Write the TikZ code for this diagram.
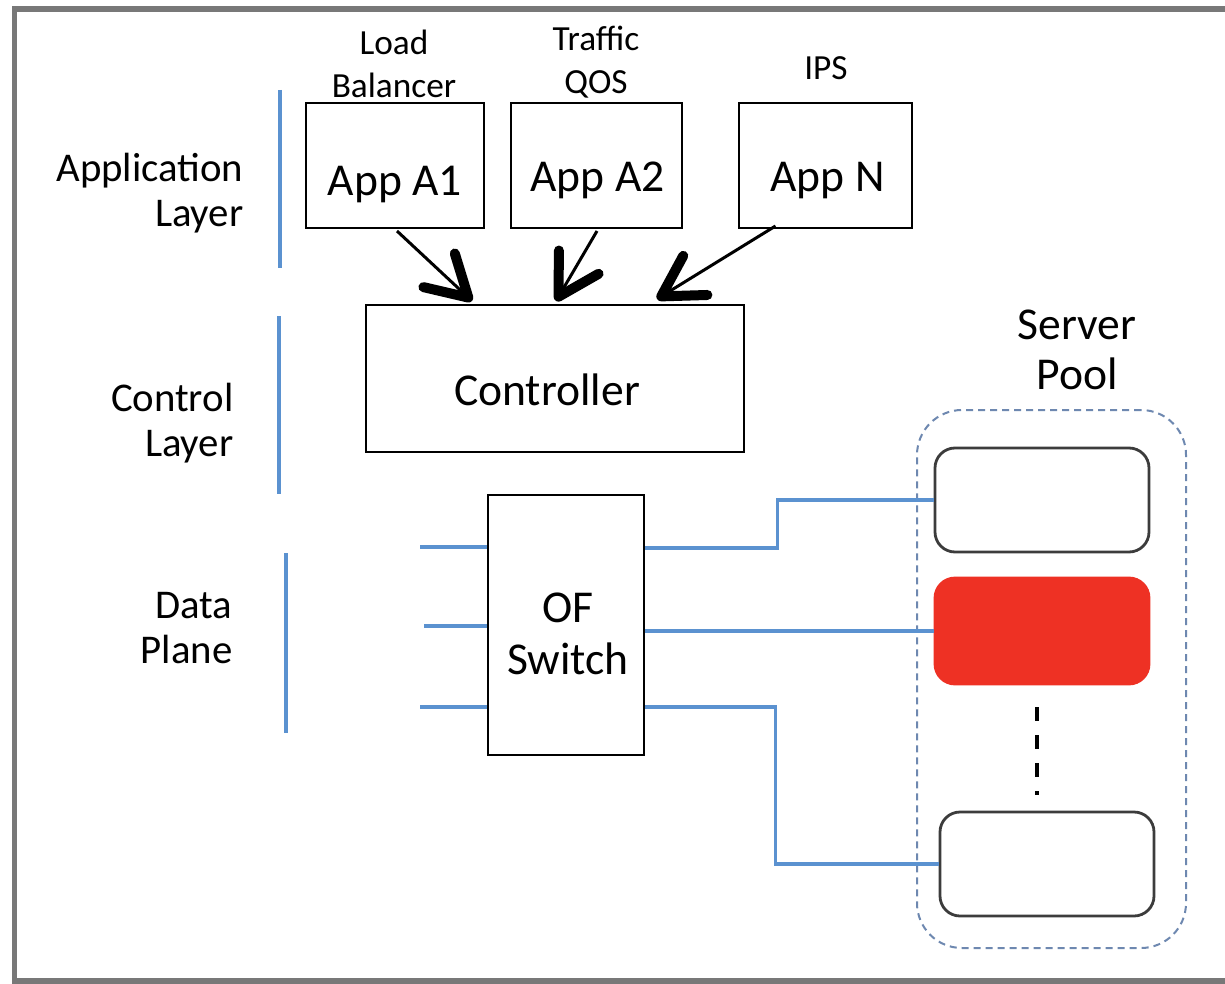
\documentclass[tikz,border=0pt]{standalone}
\usepackage{fontspec}
\setmainfont{Carlito}
\usetikzlibrary{arrows.meta,calc}
\definecolor{lblue}{RGB}{91,146,208}
\definecolor{poolc}{RGB}{110,136,176}
\definecolor{srvred}{RGB}{238,49,36}
\definecolor{frameg}{RGB}{120,120,120}
\begin{document}
\begin{tikzpicture}[x=1pt,y=-1pt,
  box/.style={draw=black,line width=2pt,fill=white,inner sep=0pt},
  txt/.style={align=center,font=\fontsize{45.6}{52}\selectfont},
  srv/.style={draw={rgb,255:red,60;green,60;blue,60},line width=2.8pt,rounded corners=20pt,minimum width=214pt,inner sep=0pt},
  lbl/.style={align=right,anchor=east,font=\fontsize{40.8}{45}\selectfont},
  top/.style={align=center,font=\fontsize{35.3}{43}\selectfont},
  vline/.style={draw=lblue,line width=4pt},
  link/.style={draw=lblue,line width=3.4pt},
  bigarrow/.style={line width=3pt,-{Straight Barb[length=40pt,width=46pt,line width=10pt,round]}}
]
\useasboundingbox (0,0) rectangle (1225,984);
\fill[white] (0,0) rectangle (1225,984);
% frame
\draw[frameg,line width=5.5pt] (1240,9) -- (14.5,9) -- (14.5,981) -- (1240,981);
% layer labels
\node[lbl] (appl) at (247,193) {Application\\Layer};
\node[lbl] (ctrll) at (237,423) {Control\\Layer};
\node[lbl] (datal) at (236,628) {Data\\Plane};
\draw[vline] (280,90) -- (280,268);
\draw[vline] (279,316) -- (279,494);
\draw[vline] (286,553) -- (286,733);
% apps
\node[box,minimum width=178pt,minimum height=125pt] (a1) at (395,165.5) {};
\node[box,minimum width=171pt,minimum height=125pt] (a2) at (596.5,165.5) {};
\node[box,minimum width=173pt,minimum height=125pt] (an) at (825.5,165.5) {};
\node[txt] (a1t) at ($(a1)+(0,19)$) {App A1};
\node[txt] (a2t) at ($(a2)+(1,15)$) {App A2};
\node[txt] (ant) at ($(an)+(2,15)$) {App N};
\node[top] (t1) at (394,64) {Load\\Balancer};
\node[top] (t2) at (596,62) {Traffic\\QOS};
\node[top] (t3) at (826,68) {IPS};
% controller
\node[box,minimum width=378pt,minimum height=147pt] (ctrl) at (555,378.5) {};
\node[txt] (ctrlt) at ($(ctrl)+(-8,11.5)$) {Controller};
\draw[bigarrow] ($(a1.south)+(2,2)$) -- ($(ctrl.north)+(-83,-3)$);
\draw[bigarrow] ($(a2.south)+(0.5,2)$) -- ($(ctrl.north)+(1,-3)$);
\draw[bigarrow] ($(an.south)+(-50,-3)$) -- ($(ctrl.north)+(102,-5)$);
% switch
\node[box,minimum width=156pt,minimum height=260pt] (sw) at (566,625) {};
\node[txt] (swt) at ($(sw)+(2,9)$) {OF\\Switch};
\coordinate (l1) at (420,547);
\coordinate (l2) at (424,626);
\coordinate (l3) at (420,707);
\draw[link] (l1) -- (l1 -| sw.west);
\draw[link] (l2) -- (l2 -| sw.west);
\draw[link] (l3) -- (l3 -| sw.west);
% server pool
\node[draw=poolc,line width=2pt,dash pattern=on 7pt off 5pt,rounded corners=45pt,minimum width=269pt,minimum height=538pt,inner sep=0pt] (pool) at (1051.5,679) {};
\node[align=center,font=\fontsize{45.6}{50}\selectfont] (pl) at (1077,350) {Server\\Pool};
\node[srv,minimum height=104pt,fill=white] (s1) at (1042,500) {};
\node[srv,draw=srvred,fill=srvred,minimum height=106pt] (s2) at (1042,631) {};
\node[srv,minimum height=104pt,fill=white] (s3) at (1047,864) {};
\draw[black,line width=4pt,dash pattern=on 14pt off 14pt] (1037,707) -- (1037,795);
% links to servers
\draw[link] ($(sw.east)+(0,-77)$) -| ($(s1.west)+(-156,0)$) -- (s1.west);
\draw[link] ($(sw.east)+(0,6)$) -- (s2.west);
\draw[link] ($(sw.east)+(0,82)$) -| ($(s3.west)+(-163,0)$) -- (s3.west);
\end{tikzpicture}
\end{document}
